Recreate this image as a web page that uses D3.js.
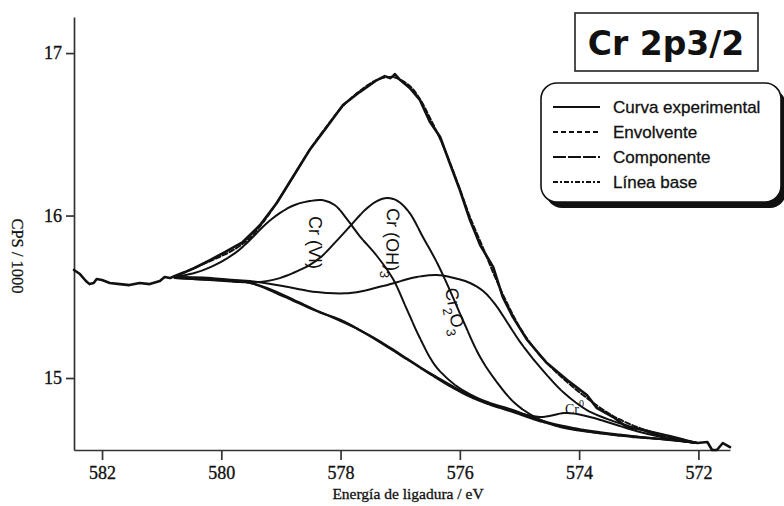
<!DOCTYPE html>
<html><head><meta charset="utf-8">
<script src="https://cdn.jsdelivr.net/npm/d3@7"></script>
<style>body{margin:0;background:#fff}svg{display:block}</style>
</head><body>
<svg id="chart" width="784" height="506"></svg>
<script>
// Cr 2p3/2 XPS spectrum: binding energy (eV) vs counts per second / 1000
const xTicks = [582, 580, 578, 576, 574, 572];
const yTicks = [15, 16, 17];

const expEnergy = [582.47, 582.37, 582.27, 582.21, 582.14, 582.09, 582.00, 581.87, 581.70, 581.54, 581.37, 581.20, 581.03, 580.95, 580.86, 580.78, 580.61, 580.45, 580.19, 579.94, 579.64, 579.35, 579.07, 578.80, 578.52, 578.23, 577.96, 577.68, 577.39, 577.26, 577.17, 577.12, 577.09, 577.00, 576.84, 576.67, 576.50, 576.33, 576.17, 576.00, 575.83, 575.66, 575.44, 575.28, 575.11, 574.87, 574.54, 574.20, 573.87, 573.70, 573.43, 573.20, 572.93, 572.59, 572.31, 572.02, 571.85, 571.77, 571.69, 571.59, 571.47];
const expCps = [15.665, 15.640, 15.597, 15.578, 15.585, 15.609, 15.603, 15.585, 15.578, 15.572, 15.585, 15.578, 15.597, 15.622, 15.615, 15.628, 15.652, 15.677, 15.726, 15.775, 15.837, 15.942, 16.077, 16.237, 16.403, 16.545, 16.680, 16.760, 16.834, 16.858, 16.846, 16.858, 16.871, 16.834, 16.785, 16.711, 16.575, 16.483, 16.323, 16.157, 15.972, 15.818, 15.683, 15.498, 15.375, 15.234, 15.092, 14.988, 14.895, 14.815, 14.760, 14.698, 14.680, 14.637, 14.618, 14.600, 14.606, 14.557, 14.557, 14.600, 14.575];

const envEnergy = [580.78, 580.45, 580.11, 579.77, 579.52, 579.27, 579.02, 578.77, 578.52, 578.23, 577.96, 577.68, 577.39, 577.12, 576.84, 576.67, 576.50, 576.33, 576.17, 576.00, 575.83, 575.61, 575.41, 575.21, 574.99, 574.77, 574.54, 574.20, 573.87, 573.43, 572.98, 572.47, 572.02];
const envCps = [15.622, 15.677, 15.732, 15.794, 15.862, 15.972, 16.108, 16.255, 16.403, 16.551, 16.674, 16.766, 16.834, 16.852, 16.797, 16.717, 16.600, 16.471, 16.329, 16.163, 15.991, 15.800, 15.622, 15.462, 15.308, 15.191, 15.092, 14.975, 14.877, 14.766, 14.692, 14.637, 14.600];

const baseEnergy = [580.78, 580.19, 579.52, 578.97, 578.40, 577.96, 577.51, 577.00, 576.50, 576.08, 575.66, 575.11, 574.66, 574.10, 573.26, 572.42, 572.02];
const baseCps = [15.622, 15.609, 15.585, 15.505, 15.412, 15.351, 15.258, 15.142, 15.025, 14.932, 14.858, 14.791, 14.735, 14.686, 14.643, 14.618, 14.600];

const crVIEnergy = [580.78, 580.45, 580.11, 579.77, 579.52, 579.27, 579.02, 578.77, 578.52, 578.31, 578.10, 577.88, 577.68, 577.39, 577.12, 576.92, 576.67, 576.42, 576.08, 575.66, 575.11, 574.66, 574.10, 573.26, 572.42, 572.02];
const crVICps = [15.622, 15.646, 15.695, 15.769, 15.849, 15.942, 16.015, 16.065, 16.089, 16.095, 16.065, 15.972, 15.874, 15.751, 15.609, 15.449, 15.246, 15.080, 14.957, 14.870, 14.803, 14.742, 14.692, 14.649, 14.618, 14.600];

const crOHEnergy = [580.78, 580.19, 579.69, 579.35, 579.02, 578.80, 578.52, 578.31, 578.10, 577.84, 577.59, 577.39, 577.22, 577.04, 576.84, 576.62, 576.38, 576.17, 575.95, 575.66, 575.38, 575.08, 574.74, 574.32, 573.65, 572.81, 572.02];
const crOHCps = [15.615, 15.603, 15.591, 15.591, 15.615, 15.646, 15.695, 15.751, 15.831, 15.935, 16.034, 16.089, 16.108, 16.089, 16.015, 15.868, 15.708, 15.542, 15.357, 15.129, 14.975, 14.846, 14.760, 14.698, 14.661, 14.631, 14.600];

const cr2O3Energy = [580.78, 580.11, 579.52, 578.97, 578.40, 577.84, 577.29, 576.72, 576.38, 576.17, 575.83, 575.61, 575.41, 575.21, 574.99, 574.77, 574.54, 574.27, 573.87, 573.43, 572.98, 572.47, 572.02];
const cr2O3Cps = [15.615, 15.603, 15.597, 15.566, 15.529, 15.523, 15.566, 15.622, 15.634, 15.622, 15.585, 15.535, 15.455, 15.345, 15.222, 15.117, 15.018, 14.914, 14.803, 14.735, 14.686, 14.643, 14.600];

const cr0Energy = [580.78, 579.52, 578.40, 577.51, 576.50, 575.66, 575.11, 574.66, 574.20, 573.82, 573.26, 572.98, 572.47, 572.02];
const cr0Cps = [15.622, 15.587, 15.415, 15.262, 15.030, 14.863, 14.797, 14.760, 14.785, 14.760, 14.698, 14.668, 14.625, 14.600];

const legendLabels = ["Curva experimental", "Envolvente", "Componente", "Línea base"];
const legendDashes = [null, "5,3", "13,2", "5,2,2,2"];

const svg = d3.select("#chart");
const x = d3.scaleLinear().domain([582.47, 571.47]).range([74, 730]);
const y = d3.scaleLinear().domain([14.557, 17.222]).range([450, 17]);

const zip = (e, v) => e.map((d, i) => [d, v[i]]);
const line = d3.line().x(d => x(d[0])).y(d => y(d[1]));
const smooth = d3.line().x(d => x(d[0])).y(d => y(d[1])).curve(d3.curveCatmullRom.alpha(0.5));

// axes
const serif = "'Liberation Serif', 'Times New Roman', serif";
const xAxis = svg.append("g").attr("transform", "translate(0,450)")
  .call(d3.axisBottom(x).tickValues(xTicks).tickSize(10).tickSizeOuter(0).tickFormat(d3.format("d")));
const yAxis = svg.append("g").attr("transform", "translate(74,0)")
  .call(d3.axisLeft(y).tickValues(yTicks).tickSize(8).tickSizeOuter(0).tickFormat(d3.format("d")));
[xAxis, yAxis].forEach(g => {
  g.select(".domain").attr("stroke", "#333").attr("stroke-width", 1.7);
  g.selectAll(".tick line").attr("stroke", "#333").attr("stroke-width", 1.7);
  g.selectAll(".tick text").attr("font-family", serif).attr("font-size", 18).attr("fill", "#111")
    .attr("stroke", "#111").attr("stroke-width", 0.35);
});
xAxis.selectAll(".tick text").attr("dy", "0.9em");
yAxis.selectAll(".tick text").attr("x", -12);

svg.append("text").attr("x", 408).attr("y", 499).attr("text-anchor", "middle")
  .attr("font-family", serif).attr("font-size", 15.5).attr("fill", "#111")
  .attr("stroke", "#111").attr("stroke-width", 0.3)
  .text("Energía de ligadura / eV");
svg.append("text").attr("transform", "translate(12,256) rotate(90)").attr("text-anchor", "middle")
  .attr("font-family", serif).attr("font-size", 16.5).attr("fill", "#111")
  .attr("stroke", "#111").attr("stroke-width", 0.3)
  .text("CPS / 1000");

// curves
const plot = svg.append("g").attr("fill", "none").attr("stroke", "#111")
  .attr("stroke-linejoin", "round").attr("stroke-linecap", "round");

plot.append("path").datum(zip(baseEnergy, baseCps)).attr("d", smooth)
  .attr("stroke-width", 2.2).attr("stroke-dasharray", "10,1.5,2,1.5");
[[crVIEnergy, crVICps], [crOHEnergy, crOHCps], [cr2O3Energy, cr2O3Cps], [cr0Energy, cr0Cps]]
  .forEach(([e, v]) => plot.append("path").datum(zip(e, v)).attr("d", smooth)
    .attr("stroke-width", 2).attr("stroke-dasharray", "18,1.2"));
plot.append("path").datum(zip(envEnergy, envCps)).attr("d", smooth)
  .attr("stroke-width", 2).attr("stroke-dasharray", "5,2.5");
plot.append("path").datum(zip(expEnergy, expCps)).attr("d", line)
  .attr("stroke-width", 2.6);

// component labels
const sans = "'Liberation Sans', Arial, sans-serif";
const lab = svg.append("g").attr("font-family", sans).attr("font-size", 18).attr("fill", "#111");
lab.append("text").attr("transform", "translate(309,216) rotate(90)").text("Cr (VI)");
const oh = lab.append("text").attr("transform", "translate(387,208) rotate(91)");
oh.append("tspan").text("Cr (OH)");
oh.append("tspan").attr("dy", 6).attr("font-size", 13).text("3");
const ox = lab.append("text").attr("transform", "translate(445,289) rotate(80)");
ox.append("tspan").text("Cr");
ox.append("tspan").attr("dy", 6).attr("font-size", 13).text("2");
ox.append("tspan").attr("dy", -6).text("O");
ox.append("tspan").attr("dy", 6).attr("font-size", 13).text("3");
const c0 = svg.append("text").attr("x", 565).attr("y", 414)
  .attr("font-family", serif).attr("font-size", 14).attr("fill", "#111");
c0.append("tspan").text("Cr");
c0.append("tspan").attr("dy", -7).attr("font-size", 10).text("0");

// title box
svg.append("rect").attr("x", 575).attr("y", 13).attr("width", 183).attr("height", 58)
  .attr("fill", "#fff").attr("stroke", "#222").attr("stroke-width", 1.6);
svg.append("text").attr("x", 666).attr("y", 55).attr("text-anchor", "middle")
  .attr("font-family", "'DejaVu Sans', sans-serif").attr("font-weight", "bold").attr("font-size", 33)
  .attr("fill", "#111").text("Cr 2p3/2");

// legend with drop shadow
const lg = svg.append("g");
lg.append("rect").attr("x", 546).attr("y", 89).attr("width", 240).attr("height", 119)
  .attr("rx", 16).attr("fill", "#111");
lg.append("rect").attr("x", 541).attr("y", 83).attr("width", 240).attr("height", 119)
  .attr("rx", 16).attr("fill", "#fff").attr("stroke", "#111").attr("stroke-width", 1.6);
const rowY = [107, 132, 157, 182];
legendLabels.forEach((t, i) => {
  lg.append("line").attr("x1", 553).attr("x2", 600).attr("y1", rowY[i]).attr("y2", rowY[i])
    .attr("stroke", "#111").attr("stroke-width", 2).attr("stroke-dasharray", legendDashes[i]);
  lg.append("text").attr("x", 613).attr("y", rowY[i] + 6)
    .attr("font-family", sans).attr("font-size", 17).attr("fill", "#111")
    .attr("stroke", "#111").attr("stroke-width", 0.3).text(t);
});
</script>
</body></html>
